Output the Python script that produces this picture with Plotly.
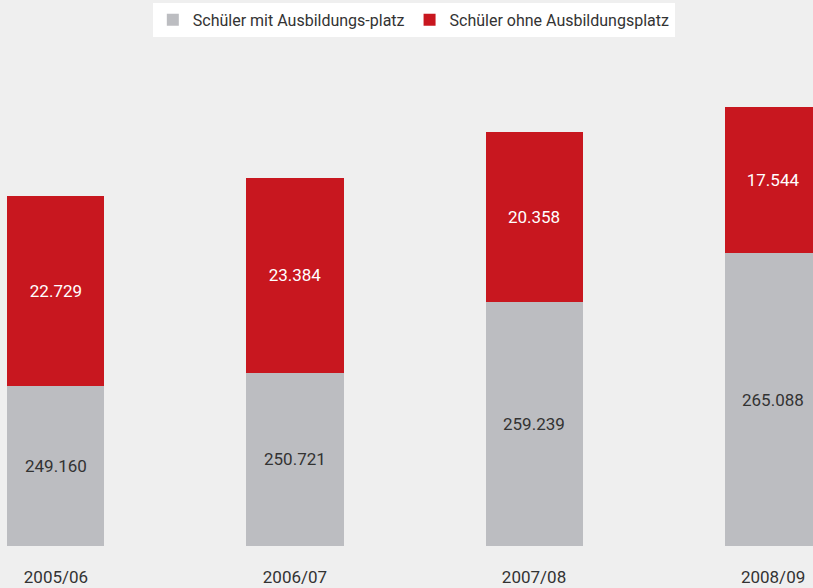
import plotly.graph_objects as go

categories = ["2005/06", "2006/07", "2007/08", "2008/09"]
mit_platz = [249160, 250721, 259239, 265088]
ohne_platz = [22729, 23384, 20358, 17544]
series_names = ["Schüler mit Ausbildungs-platz", "Schüler ohne Ausbildungsplatz"]

Y_MIN = 230000
Y_MAX = 290000

GREY = "#bcbdc1"
RED = "#c8171f"
FONT = "Roboto, sans-serif"

def de(v):
    return f"{v:,}".replace(",", ".")

fig = go.Figure()
fig.add_trace(go.Bar(
    x=categories, y=mit_platz, name=series_names[0],
    marker=dict(color=GREY, line=dict(width=0)),
    hoverinfo="skip",
))
fig.add_trace(go.Bar(
    x=categories, y=ohne_platz, name=series_names[1],
    marker=dict(color=RED, line=dict(width=0)),
    text=[de(v) for v in ohne_platz], textposition="inside",
    insidetextanchor="middle", textangle=0,
    textfont=dict(color="white", size=17, family=FONT),
    hoverinfo="skip",
))

for c, v in zip(categories, mit_platz):
    fig.add_annotation(x=c, y=(Y_MIN + v) / 2, text=de(v), showarrow=False,
                       font=dict(color="#333333", size=17, family=FONT),
                       xanchor="center", yanchor="middle")

fig.update_layout(
    width=813, height=588,
    barmode="stack", bargap=0.594,
    separators=",.",
    paper_bgcolor="#efefef", plot_bgcolor="#efefef",
    margin=dict(l=0, r=0, t=45, b=42),
    font=dict(family=FONT, color="#333333", size=16),
    showlegend=True,
    legend=dict(orientation="h", x=0.509, xanchor="center", y=0.995, yanchor="top",
                yref="container", bgcolor="white", font=dict(size=16, color="#333333"),
                itemwidth=30, traceorder="normal", borderwidth=0),
    xaxis=dict(range=[-0.234, 3.167], showgrid=False, zeroline=False, showline=False,
               ticks="", ticklabelstandoff=19, tickfont=dict(size=17, color="#333333")),
    yaxis=dict(range=[Y_MIN, Y_MAX], visible=False),
)

fig.write_html("out.html", config={"displayModeBar": False},
               post_script="document.body.style.margin='0';document.body.style.overflow='hidden';")
